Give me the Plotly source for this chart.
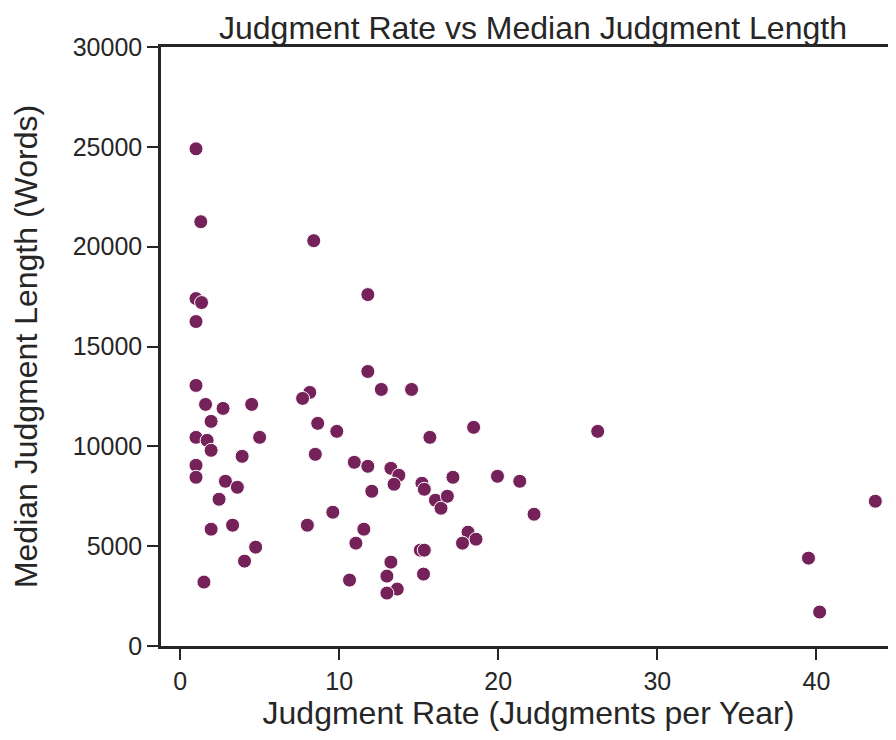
import plotly.graph_objects as go

judgment_rate = [
    1.0, 1.3, 1.0, 1.35, 1.0, 1.0, 1.6, 2.7, 4.5, 1.95,
    1.0, 1.7, 1.95, 5.0, 3.9, 1.0, 1.0, 2.85, 3.6, 2.45,
    1.95, 3.3, 4.75, 4.05, 1.5, 8.4, 11.8, 11.8, 12.65, 14.55,
    8.15, 7.7, 8.65, 9.85, 15.7, 8.5, 10.95, 11.8, 13.25, 13.75,
    13.45, 15.2, 15.35, 16.05, 16.4, 16.8, 12.05, 9.6, 8.0, 11.55,
    11.05, 15.1, 15.35, 13.25, 13.0, 15.3, 10.65, 13.65, 13.0, 18.45,
    26.25, 17.15, 19.95, 21.35, 22.25, 18.1, 18.6, 17.75, 43.7, 39.5,
    40.2,
]
median_length = [
    24900, 21250, 17400, 17200, 16250, 13050, 12100, 11900, 12100, 11250,
    10450, 10300, 9800, 10450, 9500, 9050, 8450, 8250, 7950, 7350,
    5850, 6050, 4950, 4250, 3200, 20300, 17600, 13750, 12850, 12850,
    12700, 12400, 11150, 10750, 10450, 9600, 9200, 9000, 8900, 8550,
    8100, 8150, 7850, 7300, 6900, 7500, 7750, 6700, 6050, 5850,
    5150, 4800, 4800, 4200, 3500, 3600, 3300, 2850, 2650, 10950,
    10750, 8450, 8500, 8250, 6600, 5700, 5350, 5150, 7250, 4400,
    1700,
]
x_ticks = [0, 10, 20, 30, 40]
y_ticks = [0, 5000, 10000, 15000, 20000, 25000, 30000]
title_text = "Judgment Rate vs Median Judgment Length"

INK = "#262626"
FONT = "Liberation Sans, Arial, sans-serif"
W, H = 888, 732  # page adds an 8px body margin
M_L, M_R, M_T, M_B = 153, 0, 39, 94
plot_h = H - M_T - M_B
plot_w = W - M_L - M_R

fig = go.Figure(
    go.Scatter(
        x=judgment_rate,
        y=median_length,
        mode="markers",
        marker=dict(size=14, color="#76225a", line=dict(color="white", width=1)),
        hoverinfo="x+y",
    )
)

fig.update_layout(
    width=W,
    height=H,
    margin=dict(l=M_L, r=M_R, t=M_T, b=M_B),
    paper_bgcolor="white",
    plot_bgcolor="white",
    showlegend=False,
    font=dict(family=FONT, color=INK, size=25),
)

fig.add_annotation(
    text=title_text,
    xref="paper",
    yref="paper",
    x=(525 - M_L) / plot_w,
    y=1 + (M_T - 0.5) / plot_h,
    xanchor="center",
    yanchor="top",
    showarrow=False,
    borderpad=0,
    font=dict(size=32, family=FONT, color=INK),
)

fig.update_xaxes(
    range=[-1.2, 45.0],
    tickvals=x_ticks,
    ticktext=[str(v) for v in x_ticks],
    ticks="outside",
    ticklen=11,
    tickwidth=2,
    tickcolor=INK,
    showline=True,
    linecolor=INK,
    linewidth=2.5,
    mirror=True,
    showgrid=False,
    zeroline=False,
    automargin=False,
    tickfont=dict(size=25, family=FONT, color=INK),
    title=dict(text="Judgment Rate (Judgments per Year)", font=dict(size=32, family=FONT, color=INK), standoff=4),
)
fig.update_yaxes(
    range=[0, 30000],
    tickvals=y_ticks,
    ticktext=[str(v) for v in y_ticks],
    ticks="outside",
    ticklen=11,
    tickwidth=2,
    tickcolor=INK,
    showline=True,
    linecolor=INK,
    linewidth=2.5,
    mirror=False,
    showgrid=False,
    zeroline=False,
    automargin=False,
    tickfont=dict(size=25, family=FONT, color=INK),
    title=dict(text="Median Judgment Length (Words)", font=dict(size=32, family=FONT, color=INK), standoff=26),
)

fig.write_html("out.html")
